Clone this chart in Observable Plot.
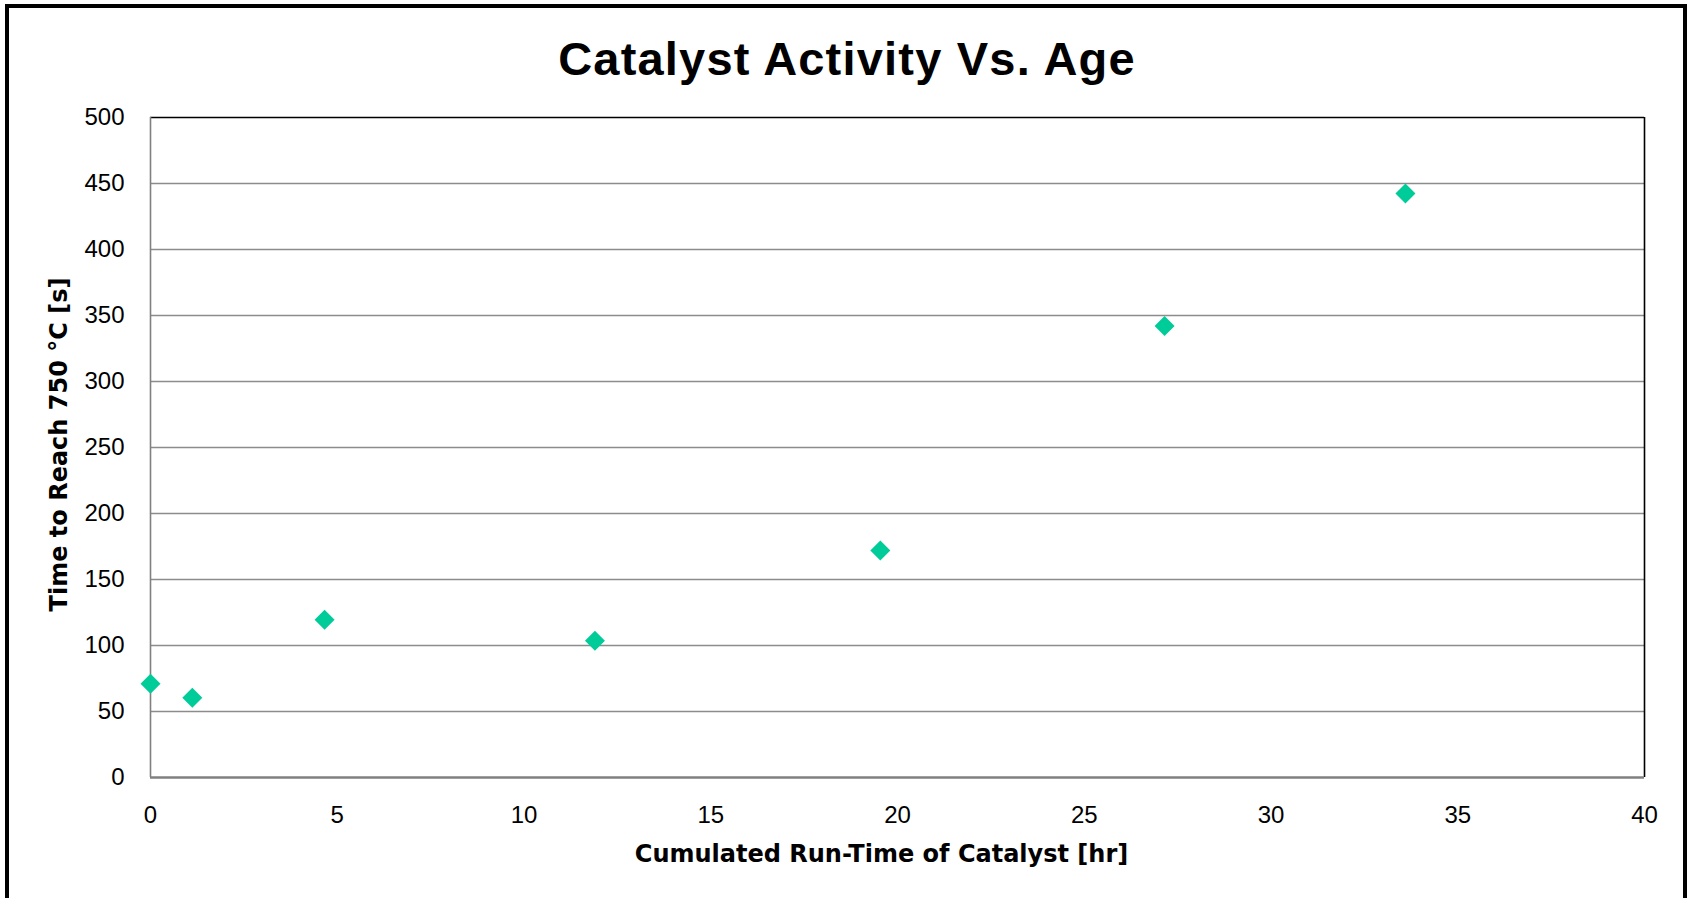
<!DOCTYPE html>
<html>
<head>
<meta charset="utf-8">
<script src="https://cdn.jsdelivr.net/npm/d3@7"></script>
<script src="https://cdn.jsdelivr.net/npm/@observablehq/plot@0.6"></script>
<style>
  html, body { margin: 0; padding: 0; overflow: hidden; background: #fff; width: 1688px; height: 898px; }
  #frame { position: absolute; left: 5px; top: 4px; width: 1682px; height: 1000px; box-sizing: border-box; border: 4px solid #000; pointer-events: none; }
  #title { position: absolute; left: 0; top: 0; width: 1694px; height: 90px; line-height: 118px; text-align: center;
           font-family: "Liberation Sans", Arial, sans-serif; font-weight: bold; font-size: 47px; letter-spacing: 1.2px; color: #000; }
  #chart { position: absolute; left: 0; top: 90px; }
</style>
</head>
<body>
<div id="title">Catalyst Activity Vs. Age</div>
<div id="chart"></div>
<div id="frame"></div>
<script>
// Data
const runTimeHr = [0, 1.12, 4.66, 11.9, 19.54, 27.15, 33.6];
const timeToReachS = [71, 60.5, 119.5, 103.6, 172, 342, 442.5];
const xTicks = [0, 5, 10, 15, 20, 25, 30, 35, 40];
const yTicks = [0, 50, 100, 150, 200, 250, 300, 350, 400, 450, 500];
const xTitle = "Cumulated Run-Time of Catalyst [hr]";
const yTitle = "Time to Reach 750 °C [s]";

const data = runTimeHr.map((x, i) => ({x, y: timeToReachS[i]}));
const titleFont = "'DejaVu Sans', Verdana, sans-serif";

const chart = Plot.plot({
  width: 1688,
  height: 808,
  marginLeft: 150,
  marginRight: 44,
  marginTop: 27,
  marginBottom: 121,
  style: {fontFamily: "'Liberation Sans', Arial, sans-serif", fontSize: "24px", color: "#000", background: "transparent"},
  x: {domain: [0, 40]},
  y: {domain: [0, 500]},
  marks: [
    Plot.ruleY(yTicks.filter(d => d > 0 && d < 500), {stroke: "#8c8c8c", strokeWidth: 1.6}),
    Plot.ruleY([500], {stroke: "#000", strokeWidth: 1.6}),
    Plot.ruleX([40], {stroke: "#000", strokeWidth: 1.6}),
    Plot.ruleX([0], {stroke: "#808080", strokeWidth: 1.6}),
    Plot.ruleY([0], {stroke: "#808080", strokeWidth: 2.5}),
    Plot.axisX({ticks: xTicks, tickSize: 0, tickPadding: 28, fontSize: 24, label: null, tickFormat: d => String(d)}),
    Plot.axisY({ticks: yTicks, tickSize: 0, tickPadding: 26, fontSize: 24, label: null, tickFormat: d => String(d)}),
    Plot.text([xTitle], {frameAnchor: "bottom", dx: -16, dy: 77, lineAnchor: "middle", fontFamily: titleFont, fontWeight: "bold", fontSize: 24, fill: "#000"}),
    Plot.text([yTitle], {frameAnchor: "left", rotate: -90, dx: -91, dy: -3, lineAnchor: "middle", textAnchor: "middle", fontFamily: titleFont, fontWeight: "bold", fontSize: 24, fill: "#000"}),
    Plot.dot(data, {x: "x", y: "y", symbol: "diamond2", r: 9, fill: "#00cc99", stroke: "none"})
  ]
});
document.getElementById("chart").appendChild(chart);
</script>
</body>
</html>
